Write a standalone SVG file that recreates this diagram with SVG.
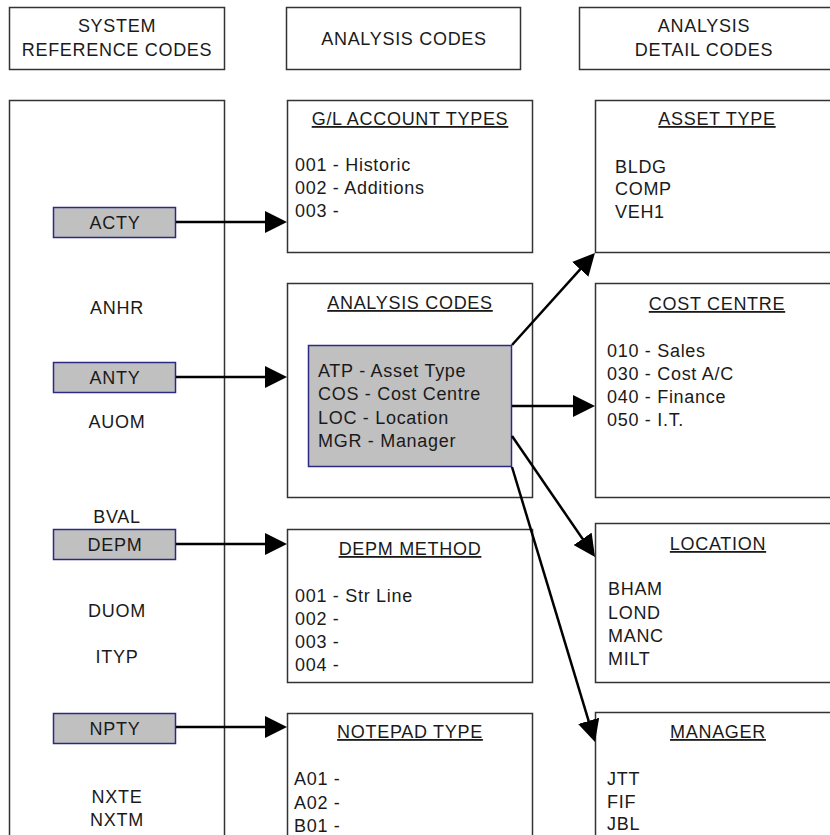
<svg xmlns="http://www.w3.org/2000/svg" width="830" height="835" viewBox="0 0 830 835">
<defs>
<marker id="ah" markerUnits="userSpaceOnUse" markerWidth="22" markerHeight="22" refX="14" refY="11" orient="auto" viewBox="0 0 22 22">
<path d="M0,0 L22,11 L0,22 z" fill="#000"/>
</marker>
<style>
.box{fill:#fff;stroke:#333;stroke-width:1.5}
.gbox{fill:#c0c0c0;stroke:#2a2a80;stroke-width:1.5}
text{font-family:"Liberation Sans",Arial,sans-serif;font-size:18px;fill:#1a1a1a;letter-spacing:0.7px}
.c{text-anchor:middle}
.u{text-decoration:underline}
.ln{stroke:#000;stroke-width:2.5;fill:none;marker-end:url(#ah)}
</style>
</defs>
<rect width="830" height="835" fill="#fff"/>
<g id="hdr-system">
<rect class="box" x="9.5" y="7.5" width="215" height="62"/>
<text class="c" x="117" y="32">SYSTEM</text>
<text class="c" x="117" y="56">REFERENCE CODES</text>
</g>
<g id="hdr-analysis">
<rect class="box" x="286.5" y="7.5" width="234" height="62"/>
<text class="c" x="404" y="45">ANALYSIS CODES</text>
</g>
<g id="hdr-detail">
<rect class="box" x="579.5" y="7.5" width="252" height="62"/>
<text class="c" x="704" y="32">ANALYSIS</text>
<text class="c" x="704" y="56">DETAIL CODES</text>
</g>
<g id="sysref">
<rect class="box" x="9.5" y="100.5" width="215" height="740"/>
<text class="c" x="117" y="314">ANHR</text>
<text class="c" x="117" y="428">AUOM</text>
<text class="c" x="117" y="523">BVAL</text>
<text class="c" x="117" y="617">DUOM</text>
<text class="c" x="117" y="663">ITYP</text>
<text class="c" x="117" y="803">NXTE</text>
<text class="c" x="117" y="826">NXTM</text>
</g>
<g id="acty">
<rect class="gbox" x="53.5" y="207.5" width="122" height="30"/>
<text class="c" x="115" y="229">ACTY</text>
</g>
<g id="anty">
<rect class="gbox" x="53.5" y="362.5" width="122" height="30"/>
<text class="c" x="115" y="384">ANTY</text>
</g>
<g id="depm">
<rect class="gbox" x="53.5" y="529.5" width="122" height="30"/>
<text class="c" x="115" y="551">DEPM</text>
</g>
<g id="npty">
<rect class="gbox" x="53.5" y="713.5" width="122" height="30"/>
<text class="c" x="115" y="735">NPTY</text>
</g>
<g id="gl-account-types">
<rect class="box" x="287.5" y="100.5" width="245" height="152"/>
<text class="c u" x="410" y="125">G/L ACCOUNT TYPES</text>
<text x="295" y="171">001 - Historic</text>
<text x="295" y="194">002 - Additions</text>
<text x="295" y="217">003 -</text>
</g>
<g id="analysis-codes">
<rect class="box" x="287.5" y="283.5" width="245" height="214"/>
<text class="c u" x="410" y="309">ANALYSIS CODES</text>
<rect class="gbox" x="308.5" y="345.5" width="203" height="121"/>
<text x="318" y="377">ATP - Asset Type</text>
<text x="318" y="400">COS - Cost Centre</text>
<text x="318" y="424">LOC - Location</text>
<text x="318" y="447">MGR - Manager</text>
</g>
<g id="depm-method">
<rect class="box" x="287.5" y="529.5" width="245" height="153"/>
<text class="c u" x="410" y="555">DEPM METHOD</text>
<text x="295" y="602">001 - Str Line</text>
<text x="295" y="625">002 -</text>
<text x="295" y="648">003 -</text>
<text x="295" y="671">004 -</text>
</g>
<g id="notepad-type">
<rect class="box" x="287.5" y="713.5" width="245" height="130"/>
<text class="c u" x="410" y="738">NOTEPAD TYPE</text>
<text x="294" y="785">A01 -</text>
<text x="294" y="809">A02 -</text>
<text x="294" y="832">B01 -</text>
</g>
<g id="asset-type">
<rect class="box" x="595.5" y="100.5" width="240" height="152"/>
<text class="c u" x="717" y="125">ASSET TYPE</text>
<text x="615" y="173">BLDG</text>
<text x="615" y="195">COMP</text>
<text x="615" y="218">VEH1</text>
</g>
<g id="cost-centre">
<rect class="box" x="595.5" y="283.5" width="240" height="214"/>
<text class="c u" x="717" y="310">COST CENTRE</text>
<text x="607" y="357">010 - Sales</text>
<text x="607" y="380">030 - Cost A/C</text>
<text x="607" y="403">040 - Finance</text>
<text x="607" y="426">050 - I.T.</text>
</g>
<g id="location">
<rect class="box" x="595.5" y="523.5" width="240" height="159"/>
<text class="c u" x="718" y="550">LOCATION</text>
<text x="608" y="595">BHAM</text>
<text x="608" y="619">LOND</text>
<text x="608" y="642">MANC</text>
<text x="608" y="665">MILT</text>
</g>
<g id="manager">
<rect class="box" x="595.5" y="712.5" width="240" height="130"/>
<text class="c u" x="718" y="738">MANAGER</text>
<text x="607" y="785">JTT</text>
<text x="607" y="808">FIF</text>
<text x="607" y="830">JBL</text>
</g>
<g id="connectors">
<line class="ln" x1="176" y1="222" x2="279" y2="222"/>
<line class="ln" x1="176" y1="377" x2="279" y2="377"/>
<line class="ln" x1="176" y1="544" x2="279" y2="544"/>
<line class="ln" x1="176" y1="727" x2="279" y2="727"/>
<line class="ln" x1="512" y1="345" x2="589.6" y2="258.9"/>
<line class="ln" x1="512" y1="406" x2="587" y2="406"/>
<line class="ln" x1="512" y1="436" x2="590.5" y2="550.4"/>
<line class="ln" x1="512" y1="467" x2="592.7" y2="734.3"/>
</g>
</svg>
